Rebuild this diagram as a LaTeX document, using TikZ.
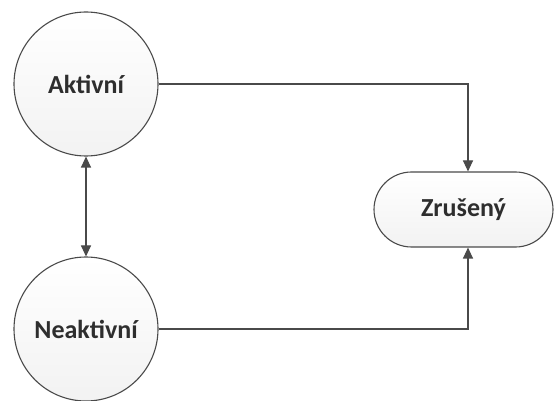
\documentclass[tikz,border=0pt]{standalone}
\usepackage{fontspec}
\setmainfont{Carlito}
\usetikzlibrary{shapes.misc,arrows.meta}

\definecolor{linegray}{HTML}{4A4A4A}
\definecolor{textgray}{HTML}{2E2E2E}

\tikzset{
    state/.style={circle, draw=linegray, line width=1.1pt, minimum size=144pt,
        inner sep=0pt, top color=white, bottom color=gray!10,
        text=textgray, font=\bfseries\fontsize{26}{30}\selectfont},
    endstate/.style={rounded rectangle, draw=linegray, line width=1.1pt,
        minimum width=179pt, minimum height=75pt, inner sep=0pt,
        top color=white, bottom color=gray!10,
        text=textgray, font=\bfseries\fontsize{26}{30}\selectfont},
    link/.style={draw=linegray, line width=1.1pt,
        -{Triangle[length=11pt,width=10pt]}},
}

\begin{document}
\begin{tikzpicture}[x=1pt, y=-1pt]

    \useasboundingbox (0,0) rectangle (555,401);

    % states
    \node[state] (aktivni) at (86,84) {Aktivní};
    \node[state] (neaktivni) at (86,329) {Neaktivní};
    \node[endstate] (zruseny) at (463.5,209.5) {Zrušený};

    % Aktivni <-> Neaktivni
    \draw[link, {Triangle[length=11pt,width=10pt]}-{Triangle[length=11pt,width=10pt]}] (aktivni) -- (neaktivni);

    % to Zruseny
    \draw[link] (aktivni.east) -| ([xshift=4.5pt]zruseny.north);
    \draw[link] (neaktivni.east) -| ([xshift=4.5pt]zruseny.south);

\end{tikzpicture}
\end{document}
